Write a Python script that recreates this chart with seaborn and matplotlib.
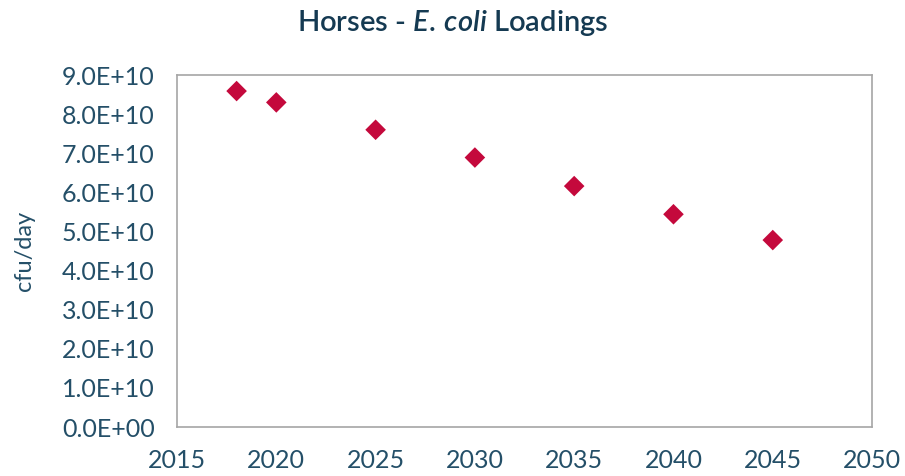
import numpy as np
import pandas as pd
import matplotlib
matplotlib.use("Agg")
import matplotlib.pyplot as plt
import seaborn as sns

years = [2018, 2020, 2025, 2030, 2035, 2040, 2045]
loadings = [8.59e10, 8.30e10, 7.60e10, 6.89e10, 6.16e10, 5.44e10, 4.78e10]

x_ticks = [2015, 2020, 2025, 2030, 2035, 2040, 2045, 2050]
y_ticks = np.arange(0, 9.01e10, 1e10)

df = pd.DataFrame({"year": years, "cfu": loadings})

sns.set_style("white")
plt.rcParams['font.family'] = ['Lato', 'DejaVu Sans']
plt.rcParams['mathtext.fontset'] = 'custom'
plt.rcParams['mathtext.rm'] = 'Lato:semibold'
plt.rcParams['mathtext.it'] = 'Lato:italic:semibold'

text_col = '#244f68'

fig = plt.figure(figsize=(9.05, 4.76), dpi=100)
ax = fig.add_axes([0.1956, 0.1029, 0.768, 0.7395])

sns.scatterplot(data=df, x="year", y="cfu", marker="D", s=110,
                color='#c4093c', edgecolor='none', ax=ax)

ax.set_xlim(2015, 2050)
ax.set_ylim(0, 9e10)
ax.set_xticks(x_ticks)
ax.set_yticks(y_ticks)
ax.set_yticklabels([f"{v:.1E}" for v in y_ticks])
ax.tick_params(axis='both', length=0, labelsize=18, colors=text_col)
ax.tick_params(axis='x', pad=16)
ax.tick_params(axis='y', pad=16)

for sp in ax.spines.values():
    sp.set_color('#a6a6a6')
    sp.set_linewidth(1.2)

ax.set_xlabel("")
ax.set_ylabel("cfu/day", fontsize=17, color=text_col)
ax.yaxis.set_label_coords(-0.205, 0.5)

fig.text(0.5, 0.952, r"Horses - $\mathit{E.\,coli}$ Loadings", ha='center', va='center',
         fontsize=21, color='#153a52', fontweight='semibold')

fig.savefig("out.png", dpi=100)
